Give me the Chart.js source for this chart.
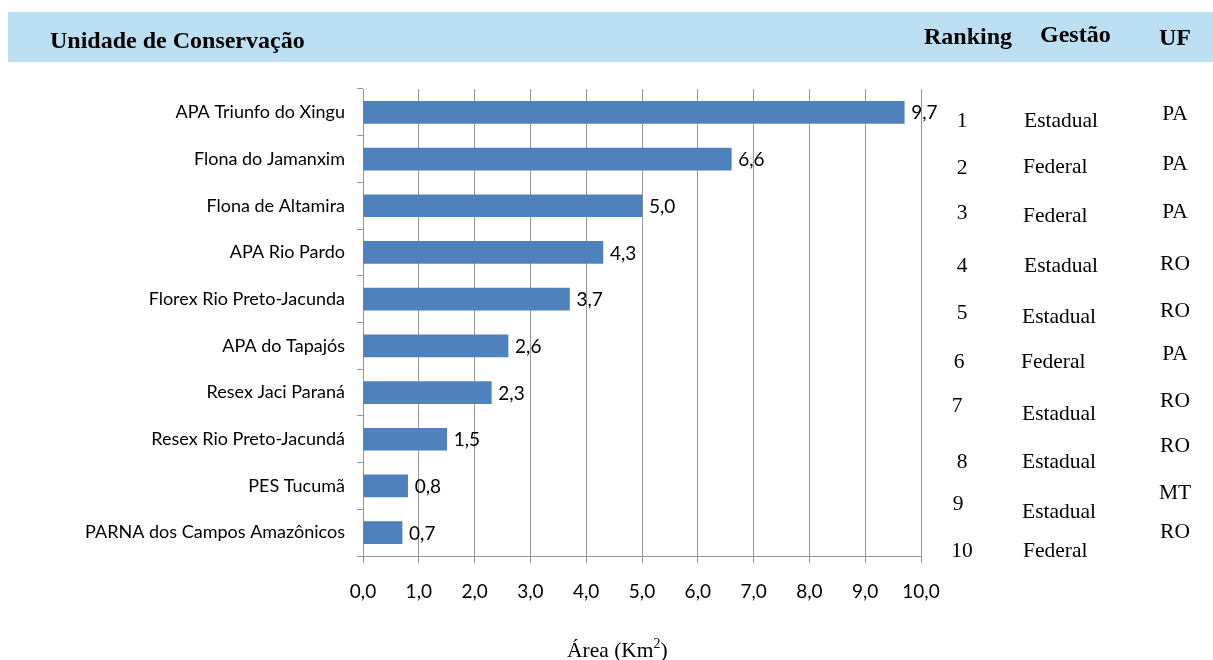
<!DOCTYPE html>
<html>
<head>
<meta charset="utf-8">
<script src="https://cdn.jsdelivr.net/npm/chart.js@4"></script>
<style>
  html, body { margin: 0; padding: 0; background: #fff; }
  #wrap { width: 1213px; height: 660px; position: relative; }
</style>
</head>
<body>
<div id="wrap"><canvas id="areaChart"></canvas></div>
<script>
// unidades de conservação, ordered by ranking
const unidades = [
    "APA Triunfo do Xingu",
    "Flona do Jamanxim",
    "Flona de Altamira",
    "APA Rio Pardo",
    "Florex Rio Preto-Jacunda",
    "APA do Tapajós",
    "Resex Jaci Paraná",
    "Resex Rio Preto-Jacundá",
    "PES Tucumã",
    "PARNA dos Campos Amazônicos"
];
const areas = [9.7, 6.6, 5.0, 4.3, 3.7, 2.6, 2.3, 1.5, 0.8, 0.7];
const ranking = ["1", "2", "3", "4", "5", "6", "7", "8", "9", "10"];
const gestao = ["Estadual", "Federal", "Federal", "Estadual", "Estadual", "Federal", "Estadual", "Estadual", "Estadual", "Federal"];
const uf = ["PA", "PA", "PA", "RO", "RO", "PA", "RO", "RO", "MT", "RO"];
const xTicks = [0, 1, 2, 3, 4, 5, 6, 7, 8, 9, 10];

// baseline nudges of the side table relative to each bar's centre
const rankDy = [15, 15, 13, 20, 20, 22, 19, 29, 24, 24];
const rankDx = [1, 1, 1, 1, 1, -2, -4, 1, -3, 1];
const gestaoDy = [15, 14, 16, 20, 24, 22, 27, 29, 32, 24];
const gestaoDx = [1, 0, 0, 1, -1, -2, -1, -1, -1, 0];
const ufDy = [8, 11, 12, 18, 18, 14, 14, 13, 13, 5];

const fmt = v => v.toFixed(1).replace(".", ",");
const sans = "Lato, 'Open Sans', sans-serif";
const serif = "'Liberation Serif', 'DejaVu Serif', serif";

const tablePlugin = {
    id: "tablePlugin",
    beforeDraw(chart) {
        const c = chart.ctx;
        c.save();
        c.fillStyle = "#fff";
        c.fillRect(0, 0, chart.width, chart.height);
        c.fillStyle = "#bddff3";
        c.fillRect(8, 12, chart.width - 8, 50);
        c.restore();
    },
    afterDraw(chart) {
        const c = chart.ctx;
        const yScale = chart.scales.y;
        c.save();
        c.fillStyle = "#000";

        // header band texts
        c.font = "bold 24px " + serif;
        c.textBaseline = "alphabetic";
        c.textAlign = "left";
        c.fillText("Unidade de Conservação", 50, 48);
        c.fillText("Ranking", 924, 44);
        c.fillText("Gestão", 1040, 42);
        c.fillText("UF", 1159, 45);

        // value labels at the end of each bar
        const meta = chart.getDatasetMeta(0);
        c.font = "19px " + sans;
        c.textBaseline = "middle";
        meta.data.forEach((bar, i) => {
            c.fillText(fmt(areas[i]), bar.x + 7, bar.y + 1);
        });

        // ranking / gestão / UF columns
        c.font = "21.5px " + serif;
        c.textBaseline = "alphabetic";
        unidades.forEach((u, i) => {
            const cy = yScale.getPixelForValue(i);
            c.textAlign = "center";
            c.fillText(ranking[i], 961 + rankDx[i], cy + rankDy[i]);
            c.textAlign = "left";
            c.fillText(gestao[i], 1023 + gestaoDx[i], cy + gestaoDy[i]);
            c.textAlign = "center";
            c.fillText(uf[i], 1175, cy + ufDy[i]);
        });

        // x axis title with superscript
        c.textAlign = "left";
        c.font = "21.5px " + serif;
        const base = "Área (Km";
        let x = 567;
        c.fillText(base, x, 657);
        x += c.measureText(base).width;
        c.font = "14px " + serif;
        c.fillText("2", x, 648);
        x += c.measureText("2").width;
        c.font = "21.5px " + serif;
        c.fillText(")", x, 657);
        c.restore();
    }
};

new Chart(document.getElementById("areaChart"), {
    type: "bar",
    data: {
        labels: unidades,
        datasets: [{
            data: areas,
            backgroundColor: "#4f81bd",
            borderWidth: 0,
            barThickness: 22
        }]
    },
    options: {
        indexAxis: "y",
        responsive: true,
        maintainAspectRatio: false,
        animation: false,
        events: [],
        layout: { padding: { left: 0, top: 89, right: 292, bottom: 0 } },
        plugins: {
            legend: { display: false },
            tooltip: { enabled: false }
        },
        scales: {
            x: {
                min: 0,
                max: 10,
                afterBuildTicks: s => { s.ticks = xTicks.map(v => ({ value: v })); },
                afterFit: s => { s.height = 104; },
                grid: { color: "#969696", lineWidth: 1, tickLength: 7 },
                border: { color: "#969696" },
                ticks: {
                    color: "#000",
                    font: { family: sans, size: 19 },
                    padding: 17,
                    maxRotation: 0,
                    callback: v => fmt(v)
                }
            },
            y: {
                afterFit: s => { s.width = 363; },
                grid: { drawOnChartArea: false, color: "#969696", tickLength: 6, offset: true },
                border: { color: "#969696" },
                ticks: {
                    color: "#000",
                    font: { family: sans, size: 18 },
                    padding: 12
                }
            }
        }
    },
    plugins: [tablePlugin]
});
</script>
</body>
</html>
